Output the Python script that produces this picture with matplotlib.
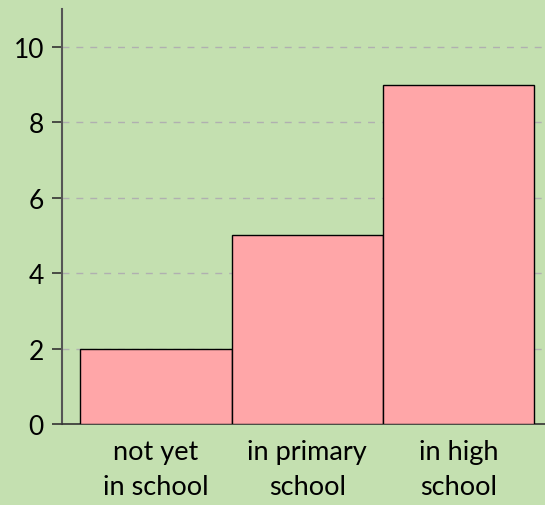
import matplotlib.pyplot as plt

# data
categories = ['not yet\nin school', 'in primary\nschool', 'in high\nschool']
counts = [2, 5, 9]
yticks = [0, 2, 4, 6, 8, 10]

plt.rcParams['font.family'] = ['Lato', 'DejaVu Sans']

fig = plt.figure(figsize=(5.45, 5.06), dpi=100, facecolor='#c4e0b0')
ax = fig.add_axes([0.1138, 0.160, 0.8862, 0.820])
ax.set_facecolor('#c4e0b0')

x = range(len(categories))
ax.bar(x, counts, width=1.0, color='#ffa6a8', edgecolor='black', linewidth=1.0, zorder=3)

ax.set_xlim(-0.62, 2.57)
ax.set_ylim(0, 11)
ax.set_yticks(yticks)
ax.set_xticks(list(x))
ax.set_xticklabels(categories, fontsize=19.5, linespacing=1.5)
ax.tick_params(axis='x', length=0, pad=11)
ax.tick_params(axis='y', length=7, width=1.2, color='#333333', labelsize=19, pad=6)

ax.yaxis.grid(True, linestyle=(0, (5, 5)), color='#b0b0b0', linewidth=1.0, zorder=0)

for side in ['top', 'right']:
    ax.spines[side].set_visible(False)
ax.spines['left'].set_color('#555555')
ax.spines['left'].set_linewidth(1.5)
ax.spines['bottom'].set_color('#333333')
ax.spines['bottom'].set_linewidth(1.2)

fig.savefig('out.png', dpi=100, facecolor=fig.get_facecolor())
